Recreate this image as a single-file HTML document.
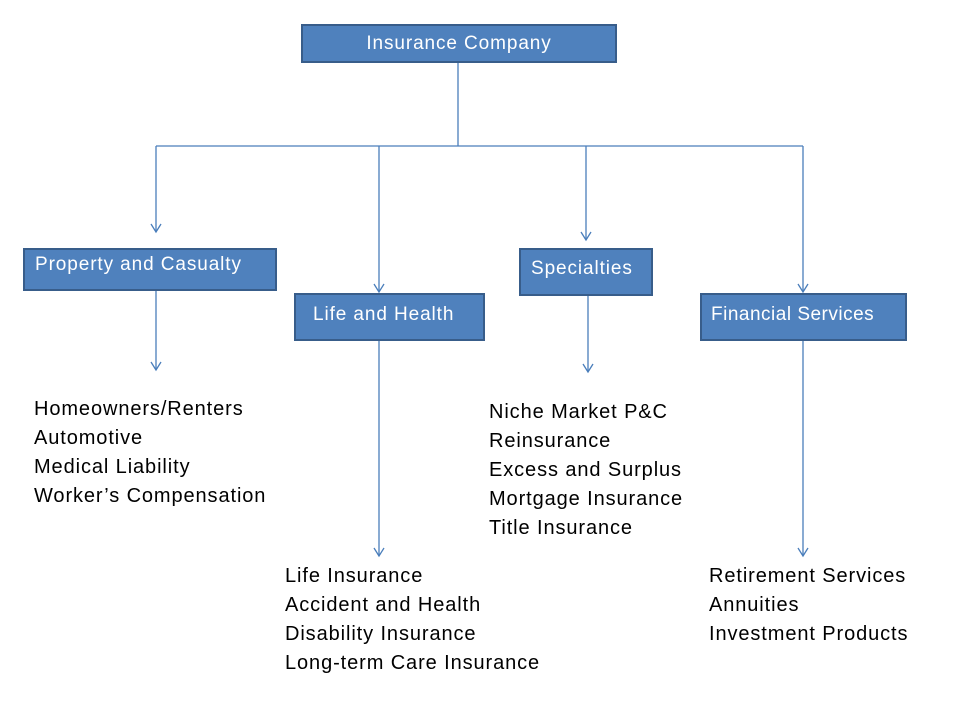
<!DOCTYPE html>
<html><head><style>
body{margin:0;width:960px;height:720px;background:#fff;position:relative;overflow:hidden;font-family:"Liberation Sans",sans-serif;}
.b{position:absolute;background:#4f81bd;border:2px solid #385d8a;box-sizing:border-box;color:#fff;font-size:19px;letter-spacing:0.9px;white-space:nowrap;}
.t{position:absolute;font-size:20px;letter-spacing:0.9px;line-height:29px;color:#000;white-space:nowrap;}
svg{position:absolute;left:0;top:0}
</style></head><body>
<svg width="960" height="720">
<g stroke="#4a7ebb" stroke-width="1.3" fill="none">
<path d="M458 62V146M156 146H803M156 146V232M379 146V292M586 146V240M803 146V292"/>
<path d="M156 290V370M379 340V556M588 295V372M803 340V556"/>
<path d="M151 224L156 232L161 224M374 284L379 292L384 284M581 232L586 240L591 232M798 284L803 292L808 284"/>
<path d="M151 362L156 370L161 362M374 548L379 556L384 548M583 364L588 372L593 364M798 548L803 556L808 548"/>
</g></svg>
<div class="b" style="left:301px;top:24px;width:316px;height:39px;text-align:center;line-height:35px">Insurance Company</div>
<div class="b" style="left:23px;top:248px;width:254px;height:43px;padding-left:10px;line-height:30px">Property and Casualty</div>
<div class="b" style="left:294px;top:293px;width:191px;height:48px;padding-left:17px;line-height:40px">Life and Health</div>
<div class="b" style="left:519px;top:248px;width:134px;height:48px;padding-left:10px;line-height:38px">Specialties</div>
<div class="b" style="left:700px;top:293px;width:207px;height:48px;padding-left:9px;line-height:40px;letter-spacing:0.5px">Financial Services</div>
<div class="t" style="left:34px;top:395px">Homeowners/Renters<br>Automotive<br>Medical Liability<br>Worker’s Compensation</div>
<div class="t" style="left:489px;top:398px">Niche Market P&amp;C<br>Reinsurance<br>Excess and Surplus<br>Mortgage Insurance<br>Title Insurance</div>
<div class="t" style="left:285px;top:562px">Life Insurance<br>Accident and Health<br>Disability Insurance<br>Long-term Care Insurance</div>
<div class="t" style="left:709px;top:562px">Retirement Services<br>Annuities<br>Investment Products</div>
</body></html>
